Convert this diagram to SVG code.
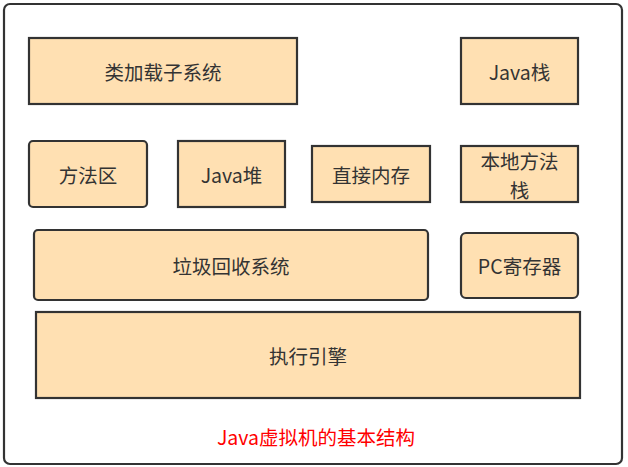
<svg xmlns="http://www.w3.org/2000/svg" width="628" height="467" viewBox="0 0 628 467">
<style>
.box{fill:#ffe0b2;stroke:#333;stroke-width:2.2}
.t{font-family:"Noto Sans CJK SC","Liberation Sans",sans-serif;font-size:19.5px;fill:#333;text-anchor:middle;dominant-baseline:central}
</style>
<rect x="0" y="0" width="628" height="467" fill="#fff"/>
<rect id="frame" x="4" y="4" width="618" height="460" rx="6" fill="#fff" stroke="#333" stroke-width="2.2"/>
<g id="classloader"><rect class="box" x="29" y="38" width="268" height="66"/><text class="t" x="163" y="71">类加载子系统</text></g>
<g id="javastack"><rect class="box" x="461" y="38" width="117" height="66"/><text class="t" x="519.5" y="71">Java栈</text></g>
<g id="methodarea"><rect class="box" x="29" y="141" width="118" height="66" rx="4"/><text class="t" x="88" y="174">方法区</text></g>
<g id="heap"><rect class="box" x="178" y="141" width="107" height="66"/><text class="t" x="231.5" y="174">Java堆</text></g>
<g id="directmem"><rect class="box" x="312" y="146" width="118" height="56"/><text class="t" x="371" y="174">直接内存</text></g>
<g id="nativestack"><rect class="box" x="461" y="146" width="117" height="56"/><text class="t" x="519.5" y="160.5">本地方法</text><text class="t" x="519.5" y="189">栈</text></g>
<g id="gc"><rect class="box" x="34" y="230" width="394" height="70" rx="4"/><text class="t" x="231" y="265">垃圾回收系统</text></g>
<g id="pc"><rect class="box" x="461" y="233" width="117" height="65" rx="5"/><text class="t" x="519.5" y="265">PC寄存器</text></g>
<g id="engine"><rect class="box" x="36" y="312" width="544" height="86"/><text class="t" x="308" y="355">执行引擎</text></g>
<g id="connectors"></g>
<text x="316" y="436" font-family="Noto Sans CJK SC,Liberation Sans,sans-serif" font-size="19.5" fill="#ff0000" text-anchor="middle" dominant-baseline="central">Java虚拟机的基本结构</text>
</svg>
